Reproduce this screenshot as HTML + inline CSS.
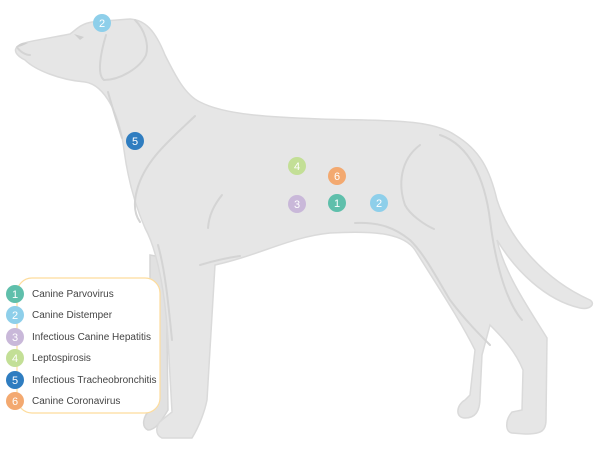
<!DOCTYPE html>
<html><head><style>
body{margin:0;background:#fff;width:600px;height:450px;overflow:hidden}
svg{display:block}
text{font-family:"Liberation Sans",sans-serif}
</style></head><body>
<svg width="600" height="450" viewBox="0 0 600 450">
<path d="M150,255 L166,258 L168,410 C162,420 156,430 148,430 C141,427 143,416 150,410 Z" fill="#e1e1e1" stroke="#d6d6d6" stroke-width="1.5"/>
<path d="M17,47 C20,42 40,40 70,34 C76,30 80,24 92,22 L130,19 C145,20 155,30 165,55 C175,75 185,95 200,102 C225,115 270,117 320,119 C380,121 430,118 455,135 C480,150 490,170 497,200 C510,240 545,280 590,300 C596,304 590,310 580,308 C545,300 515,270 497,240 C505,275 530,310 547,338 L546,420 C546,432 540,434 525,434 L512,433 C505,432 505,420 512,412 L522,410 L523,370 C515,350 500,335 490,325 L482,355 L480,397 C480,412 475,418 465,418 C455,418 456,405 465,400 L470,395 L475,350 C460,320 440,290 415,250 C405,235 380,230 330,233 C290,237 260,255 215,265 L207,400 C205,410 200,425 192,438 L162,438 C155,435 155,425 162,420 L172,412 L168,340 C165,290 157,250 145,228 C135,205 128,180 124,150 C120,115 105,85 85,82 C60,80 35,70 25,60 C15,55 14,50 17,47 Z" fill="#e6e6e6" stroke="#dadada" stroke-width="1.5"/>
<g fill="none" stroke="#d4d4d4" stroke-width="2" stroke-linecap="round">
<path d="M106,35 C100,55 97,75 104,80 C120,80 140,68 146,55 C149,45 145,30 135,20"/>
<path d="M108,92 C113,110 118,125 122,138"/>
<path d="M195,116 C170,140 145,160 137,190 C133,205 135,215 140,222"/>
<path d="M222,195 C214,205 209,215 208,228"/>
<path d="M420,145 C400,160 398,185 405,205 C410,215 425,225 434,229"/>
<path d="M355,223 C380,222 395,228 410,240 C425,255 435,275 450,300 C465,320 480,335 490,345"/>
<path d="M440,135 C470,145 485,180 490,220 C495,260 505,300 522,320"/>
<path d="M158,245 C165,270 168,300 172,340"/>
<path d="M200,265 C210,262 225,258 240,256"/>
<path d="M17,47 C20,52 26,55 30,55"/>
</g>
<path d="M74,34 L80,40 L84,37 Z" fill="#cfcfcf"/>
<path d="M17,47 C19,43 24,42 28,43 C24,45 20,47 17,47Z" fill="#cfcfcf"/>
<g font-size="11" fill="#fff" text-anchor="middle">
<circle cx="102" cy="23" r="9" fill="#8ecfea"/><text x="102" y="27">2</text>
<circle cx="135" cy="141" r="9" fill="#2f7dc0"/><text x="135" y="145">5</text>
<circle cx="297" cy="166" r="9" fill="#c3df96"/><text x="297" y="170">4</text>
<circle cx="337" cy="176" r="9" fill="#f3a970"/><text x="337" y="180">6</text>
<circle cx="297" cy="204" r="9" fill="#c9b8d9"/><text x="297" y="208">3</text>
<circle cx="337" cy="203" r="9" fill="#5fbfab"/><text x="337" y="207">1</text>
<circle cx="379" cy="203" r="9" fill="#8ecfea"/><text x="379" y="207">2</text>
</g>
<rect x="17" y="278" width="143" height="135" rx="15" fill="#fff" stroke="#fddc9c" stroke-width="1.2"/>
<g font-size="11" fill="#fff" text-anchor="middle">
<circle cx="15" cy="294" r="9" fill="#5fbfab"/><text x="15" y="298">1</text>
<circle cx="15" cy="315" r="9" fill="#8ecfea"/><text x="15" y="319">2</text>
<circle cx="15" cy="337" r="9" fill="#c9b8d9"/><text x="15" y="341">3</text>
<circle cx="15" cy="358" r="9" fill="#c3df96"/><text x="15" y="362">4</text>
<circle cx="15" cy="380" r="9" fill="#2f7dc0"/><text x="15" y="384">5</text>
<circle cx="15" cy="401" r="9" fill="#f3a970"/><text x="15" y="405">6</text>
</g>
<g font-size="10" fill="#444">
<text x="32" y="297">Canine Parvovirus</text>
<text x="32" y="318">Canine Distemper</text>
<text x="32" y="340">Infectious Canine Hepatitis</text>
<text x="32" y="361">Leptospirosis</text>
<text x="32" y="383">Infectious Tracheobronchitis</text>
<text x="32" y="404">Canine Coronavirus</text>
</g>
</svg>
</body></html>
